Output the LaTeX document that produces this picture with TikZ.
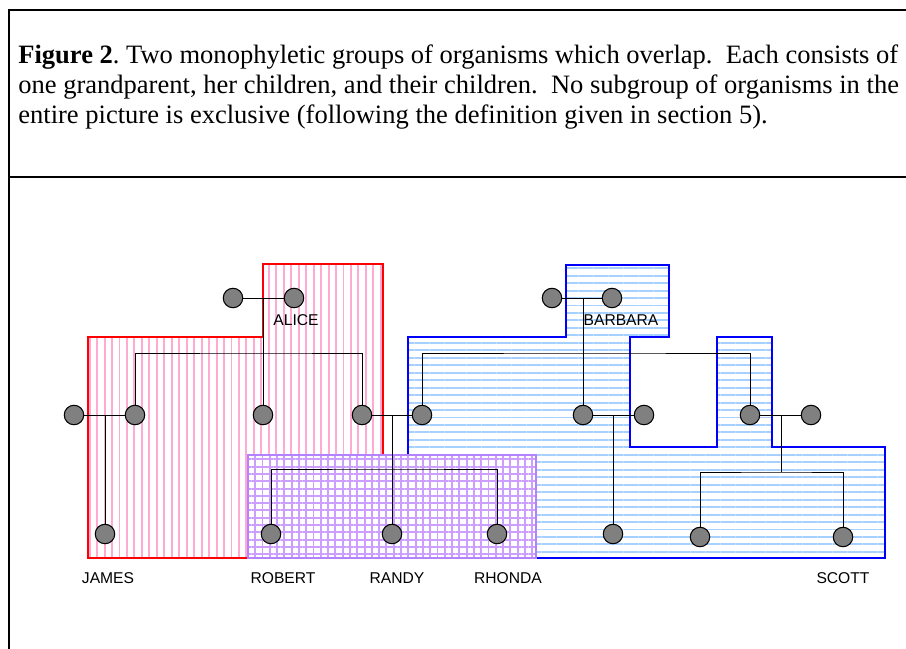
\documentclass[tikz,border=0pt]{standalone}
\usepackage{fontspec}
\setmainfont{Liberation Serif}
\newfontfamily\labelfont{Liberation Sans}
\usetikzlibrary{patterns.meta}

\definecolor{hatchpink}{RGB}{255,170,210}
\definecolor{hatchblue}{RGB}{165,208,255}
\definecolor{gridpurple}{RGB}{204,158,255}
\definecolor{edgepurple}{RGB}{180,130,255}

\begin{document}
\begin{tikzpicture}[x=0.02cm,y=-0.02cm,
	person/.style={circle,draw=black,fill=gray,line width=0.6pt,minimum size=0.39cm,inner sep=0pt},
	nametext/.style={font=\labelfont\fontsize{8.9pt}{10pt}\selectfont,anchor=base,inner sep=0pt},
	captext/.style={font=\fontsize{15.1pt}{18pt}\selectfont\frenchspacing,anchor=base west,inner sep=0pt},
	link/.style={line width=0.5pt}]
	
	\useasboundingbox (0,0) rectangle (906,649);
	
	% frame
	\draw [line width=1.1pt] (9,649) -- (9,10) -- (906,10);
	\draw [line width=1.1pt] (9,177) -- (906,177);
	
	\node [captext] (cap1) at (18,63) {\textbf{Figure 2}. Two monophyletic groups of organisms which overlap.~ Each consists of};
	\node [captext] (cap2) at (18,93) {one grandparent, her children, and their children.~ No subgroup of organisms in the};
	\node [captext] (cap3) at (18,123) {entire picture is exclusive (following the definition given in section 5).};
	
	% groups
	\draw [red,line width=1.5pt,pattern={Lines[angle=90,distance=4.25pt,line width=1.1pt]},pattern color=hatchpink]
		(88,558) -- (88,337) -- (263,337) -- (263,264) -- (383,264) -- (383,558) -- cycle;
	\draw [blue,line width=1.5pt,pattern={Lines[angle=0,distance=4.25pt,line width=1.1pt]},pattern color=hatchblue]
		(408,558) -- (408,337) -- (566,337) -- (566,265) -- (669,265) -- (669,337) -- (630,337) -- (630,447)
		-- (717,447) -- (717,337) -- (772,337) -- (772,447) -- (885,447) -- (885,558) -- cycle;
	\fill [white] (248,455) rectangle (536,558);
	\draw [edgepurple,line width=1.5pt,pattern={Hatch[angle=0,distance=4.15pt,line width=1.1pt]},pattern color=gridpurple]
		(248,455) rectangle (536,558);
	
	% people
	\node [person] (amate) at (233,298) {};
	\node [person] (alice) at (294,298) {};
	\node [person] (bmate) at (552,298) {};
	\node [person] (barbara) at (612,298) {};
	
	\node [person] (jpar) at (74,415) {};
	\node [person] (ac1) at (135,415) {};
	\node [person] (ac2) at (263,415) {};
	\node [person] (ac3) at (362,415) {};
	\node [person] (bc1) at (422,415) {};
	\node [person] (bc2) at (583,415) {};
	\node [person] (bsp2) at (644,415) {};
	\node [person] (bc3) at (750,415) {};
	\node [person] (bsp3) at (811,415) {};
	
	\node [person] (james) at (105,534) {};
	\node [person] (robert) at (271,534) {};
	\node [person] (randy) at (392,534) {};
	\node [person] (rhonda) at (497,534) {};
	\node [person] (gc1) at (613,534) {};
	\node [person] (gc2) at (700,537) {};
	\node [person] (scott) at (843,537) {};
	
	\coordinate (abar) at (263,353);
	\coordinate (bbar) at (583,353);
	\coordinate (rbar) at (392,469);
	\coordinate (sbar) at (781,472);
	
	% family lines
	\draw [link] (amate) -- (alice);
	\draw [link] (ac2 |- alice) -- (ac2);
	\draw [link] (ac1) |- (abar) -| (ac3);
	
	\draw [link] (bmate) -- (barbara);
	\draw [link] (bc2 |- barbara) -- (bc2);
	\draw [link] (bc1) |- (bbar) -| (bc3);
	
	\draw [link] (jpar) -- (ac1);
	\draw [link] (james |- ac1) -- (james);
	
	\draw [link] (ac3) -- (bc1);
	\draw [link] (randy |- ac3) -- (randy);
	\draw [link] (robert) |- (rbar) -| (rhonda);
	
	\draw [link] (bc2) -- (bsp2);
	\draw [link] (gc1 |- bc2) -- (gc1);
	
	\draw [link] (bc3) -- (bsp3);
	\draw [link] (sbar |- bc3) -- (sbar);
	\draw [link] (gc2) |- (sbar) -| (scott);
	
	% names
	\node [nametext] (lalice) at (296,325) {ALICE};
	\node [nametext] (lbarbara) at (621,325) {BARBARA};
	\node [nametext] (ljames) at (108,583) {JAMES};
	\node [nametext] (lrobert) at (283,583) {ROBERT};
	\node [nametext] (lrandy) at (397,583) {RANDY};
	\node [nametext] (lrhonda) at (508,583) {RHONDA};
	\node [nametext] (lscott) at (843,583) {SCOTT};
	
\end{tikzpicture}
\end{document}
